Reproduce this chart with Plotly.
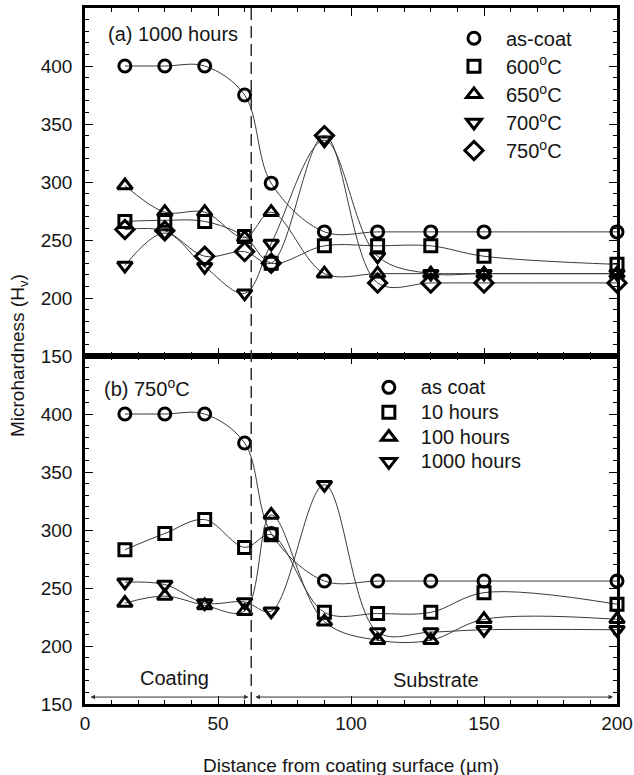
import plotly.graph_objects as go

# ---- data ----
distance = [15, 30, 45, 60, 70, 90, 110, 130, 150, 200]

# (a) 1000 hours, different temperatures
a_names = ["as-coat", "600<sup>o</sup>C", "650<sup>o</sup>C", "700<sup>o</sup>C", "750<sup>o</sup>C"]
a_ascoat = [400, 400, 400, 375, 299, 257, 257, 257, 257, 257]
a_600 = [266, 267, 266, 253, 230, 245, 245, 245, 236, 229]
a_650 = [297, 274, 274, 252, 274, 221, 221, 221, 221, 221]
a_700 = [228, 256, 227, 204, 247, 336, 236, 221, 221, 221]
a_750 = [259, 258, 236, 240, 230, 340, 213, 213, 213, 213]

# (b) 750 C, different exposure times
b_names = ["as coat", "10 hours", "100 hours", "1000 hours"]
b_ascoat = [400, 400, 400, 375, 297, 256, 256, 256, 256, 256]
b_10h = [283, 297, 309, 285, 296, 229, 228, 229, 246, 236]
b_100h = [237, 243, 235, 230, 313, 221, 205, 205, 223, 223]
b_1000h = [255, 253, 237, 238, 230, 339, 212, 212, 214, 214]

interface = 62.5
x_ticks = [0, 50, 100, 150, 200]
y_ticks = [150, 200, 250, 300, 350, 400]

FONT = "Liberation Sans, Arial, sans-serif"
TXT = "#151515"

a_series = [a_ascoat, a_600, a_650, a_700, a_750]
a_symbols = ["circle-open", "square-open", "triangle-up-open", "triangle-down-open", "diamond-open"]
b_series = [b_ascoat, b_10h, b_100h, b_1000h]
b_symbols = ["circle-open", "square-open", "triangle-up-open", "triangle-down-open"]

fig = go.Figure()


def msize(sym):
    if "diamond" in sym:
        return 14
    if "triangle" in sym:
        return 13
    return 12


def add_panel(series, names, symbols, xa, ya, legend):
    for vals, name, sym in zip(series, names, symbols):
        fig.add_trace(go.Scatter(
            x=distance, y=vals, mode="lines+markers", xaxis=xa, yaxis=ya,
            line=dict(color="#3a3a3a", width=1, shape="spline", smoothing=1.0),
            marker=dict(symbol=sym, size=msize(sym), color="black", line=dict(width=3)),
            showlegend=False, hoverinfo="skip", cliponaxis=False))
    for name, sym in zip(names, symbols):
        fig.add_trace(go.Scatter(
            x=[None], y=[None], mode="markers",
            name='<span style="font-size:20px">' + name + "</span>",
            xaxis=xa, yaxis=ya,
            marker=dict(symbol=sym, size=msize(sym), color="black", line=dict(width=3)),
            showlegend=True, legend=legend))


add_panel(a_series, a_names, a_symbols, "x", "y", "legend")
add_panel(b_series, b_names, b_symbols, "x2", "y2", "legend2")

xcommon = dict(range=[0, 200], tickvals=x_ticks, ticks="inside", ticklen=8, tickwidth=1.3,
               tickcolor="black", showline=True, linewidth=2.5, linecolor="black",
               mirror="allticks", showgrid=False, zeroline=False, automargin=False,
               minor=dict(ticks="inside", ticklen=4, dtick=10, tick0=0, tickcolor="black", tickwidth=1),
               tickfont=dict(family=FONT, size=19, color=TXT), ticklabeloverflow="allow")
ycommon = dict(range=[150, 450], tickvals=y_ticks, ticks="inside", ticklen=8, tickwidth=1.3,
               tickcolor="black", showline=True, linewidth=2.5, linecolor="black",
               mirror="allticks", showgrid=False, zeroline=False, automargin=False,
               minor=dict(ticks="inside", ticklen=4, dtick=10, tick0=150, tickcolor="black", tickwidth=1),
               tickfont=dict(family=FONT, size=19, color=TXT), ticklabelstandoff=6)

fig.update_layout(
    width=634, height=775,
    margin=dict(l=85, r=17, t=8, b=71, autoexpand=False),
    paper_bgcolor="white", plot_bgcolor="white",
    font=dict(family=FONT, size=19, color=TXT),
    xaxis=dict(xcommon, anchor="y", domain=[0, 1], showticklabels=False, matches="x2"),
    xaxis2=dict(xcommon, anchor="y2", domain=[0, 1]),
    yaxis=dict(ycommon, anchor="x", domain=[0.5, 1]),
    yaxis2=dict(ycommon, anchor="x2", domain=[0, 0.5]),
    legend=dict(x=0.671, y=0.984, xanchor="left", yanchor="top", bgcolor="rgba(0,0,0,0)",
                itemwidth=54, font=dict(family=FONT, size=19.3, color=TXT), tracegroupgap=0),
    legend2=dict(x=0.511, y=0.48, xanchor="left", yanchor="top", bgcolor="rgba(0,0,0,0)",
                 itemwidth=54, font=dict(family=FONT, size=16.8, color=TXT), tracegroupgap=0),
)

# coating/substrate interface
fig.add_shape(type="line", xref="x", yref="paper", x0=interface, x1=interface, y0=0, y1=1,
              line=dict(color="#333", width=1.5, dash="12px,6px"))

# double-headed arrows at the bottom of panel (b)
arrow_y = 156
for x0, x1 in [(1.5, interface - 1), (interface + 1, 198.5)]:
    fig.add_annotation(x=x1, y=arrow_y, ax=x0, ay=arrow_y, xref="x2", yref="y2",
                       axref="x2", ayref="y2", showarrow=True, text="",
                       arrowside="end+start", arrowhead=2, arrowsize=0.9,
                       arrowwidth=1, arrowcolor="#333")

fig.add_annotation(x=33.5, y=172, xref="x2", yref="y2", text="Coating", showarrow=False,
                   font=dict(family=FONT, size=20, color=TXT))
fig.add_annotation(x=132, y=171, xref="x2", yref="y2", text="Substrate", showarrow=False,
                   font=dict(family=FONT, size=20, color=TXT))

fig.add_annotation(x=8, y=428, xref="x", yref="y", text="(a) 1000 hours", showarrow=False,
                   xanchor="left", font=dict(family=FONT, size=20, color=TXT))
fig.add_annotation(x=6.5, y=423, xref="x2", yref="y2", text="(b) 750<sup>o</sup>C", showarrow=False,
                   xanchor="left", font=dict(family=FONT, size=20, color=TXT))

fig.add_annotation(x=-0.124, y=0.5, xref="paper", yref="paper", text="Microhardness (H<sub>v</sub>)",
                   textangle=-90, showarrow=False, xanchor="center", yanchor="middle",
                   font=dict(family=FONT, size=19, color=TXT))
fig.add_annotation(x=0.5, y=-0.088, xref="paper", yref="paper",
                   text="Distance from coating surface (\u00b5m)", showarrow=False,
                   xanchor="center", yanchor="middle",
                   font=dict(family=FONT, size=19, color=TXT))

fig.write_html("out.html")
